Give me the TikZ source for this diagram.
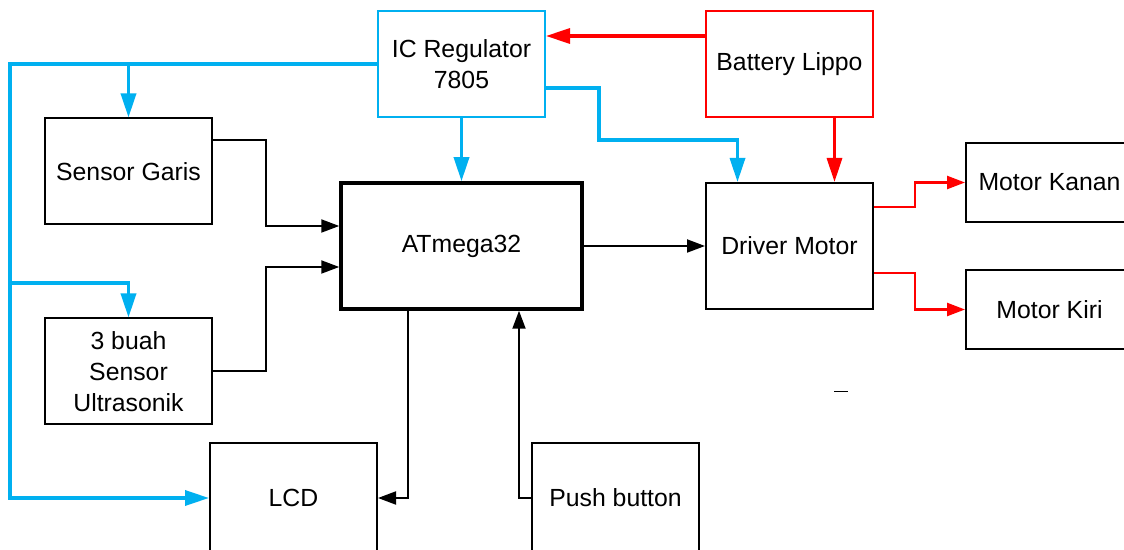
\documentclass[tikz,border=0pt]{standalone}
\usepackage{fontspec}
\setmainfont{Liberation Sans}
\usetikzlibrary{arrows.meta,calc}
\definecolor{wireblue}{RGB}{0,176,240}
\definecolor{wirered}{RGB}{255,0,0}
\tikzset{
  blok/.style={draw,line width=1pt,minimum width=83.5pt,minimum height=53pt,align=center,
    inner sep=2pt,font=\fontsize{12.4}{15.5}\selectfont},
  bluewire/.style={draw=wireblue,line width=1.7pt,-{Triangle[length=12pt,width=7.5pt]},color=wireblue},
  redwire/.style={draw=wirered,line width=1.6pt,-{Triangle[length=12pt,width=7.5pt]},color=wirered},
  redthin/.style={draw=wirered,line width=1.2pt,-{Triangle[length=9pt,width=6.5pt]},color=wirered},
  sigwire/.style={draw=black,line width=1pt,-{Triangle[length=9pt,width=6.5pt]}}
}
\begin{document}
\begin{tikzpicture}[x=0.5pt,y=-0.5pt]
	\clip (0,0) rectangle (1124,550);
	\fill[white] (0,0) rectangle (1124,550);
	% blocks
	\node[blok,draw=wireblue] (icreg) at (461.5,64) {IC Regulator\\7805};
	\node[blok,draw=wirered] (battery) at (789.5,64) {Battery Lippo};
	\node[blok] (sensorgaris) at (128.5,171.5) {Sensor Garis};
	\node[blok] (ultrasonik) at (128.5,371.5) {3 buah\\Sensor\\Ultrasonik};
	\node[blok,line width=1.75pt,minimum width=120.5pt,minimum height=63pt] (atmega) at (461.5,246) {ATmega32};
	\node[blok,minimum height=63pt] (driver) at (789.5,246) {Driver Motor};
	\node[blok,minimum height=39.5pt] (motorkanan) at (1049.5,182.5) {Motor Kanan};
	\node[blok,minimum height=39.5pt] (motorkiri) at (1049.5,309.5) {Motor Kiri};
	\node[blok,minimum height=55pt] (lcd) at (293.5,498) {LCD};
	\node[blok,minimum height=55pt] (push) at (615.5,498) {Push button};
	% supply 5V
	\coordinate (busL) at (10,64);
	\coordinate (busU) at (10,283);
	\draw[bluewire] (icreg.west) -- (busL) |- (lcd.west);
	\draw[bluewire] (busL -| sensorgaris.north) -- (sensorgaris.north);
	\draw[bluewire] (busU) -| (ultrasonik.north);
	\draw[bluewire] (icreg.south) -- (atmega.north);
	\draw[bluewire] ($(icreg.east)+(0,24)$) -- ++(53,0) |- ($(driver.north)+(-52,-42)$)
		-- ($(driver.north)+(-52,0)$);
	% battery
	\draw[redwire] ($(battery.west)+(0,-28)$) -- ($(icreg.east)+(0,-28)$);
	\draw[redwire] ($(battery.south)+(45,0)$) -- ($(driver.north)+(45,0)$);
	% signals
	\draw[sigwire] ($(sensorgaris.east)+(0,-31)$) -- ++(53,0) |- ($(atmega.west)+(0,-20)$);
	\draw[sigwire] (ultrasonik.east) -- ++(53,0) |- ($(atmega.west)+(0,21)$);
	\draw[sigwire] (atmega.east) -- (driver.west);
	\draw[sigwire] ($(atmega.south)+(-53.5,0)$) |- (lcd.east);
	\draw[sigwire] (push.west) -| ($(atmega.south)+(57.5,0)$);
	% motors
	\draw[redthin] ($(driver.east)+(0,-39)$) -- ++(41,0) |- (motorkanan.west);
	\draw[redthin] ($(driver.east)+(0,27)$) -- ++(41,0) |- (motorkiri.west);
	\draw[line width=0.5pt] (834,392) -- (848,392);
\end{tikzpicture}
\end{document}
